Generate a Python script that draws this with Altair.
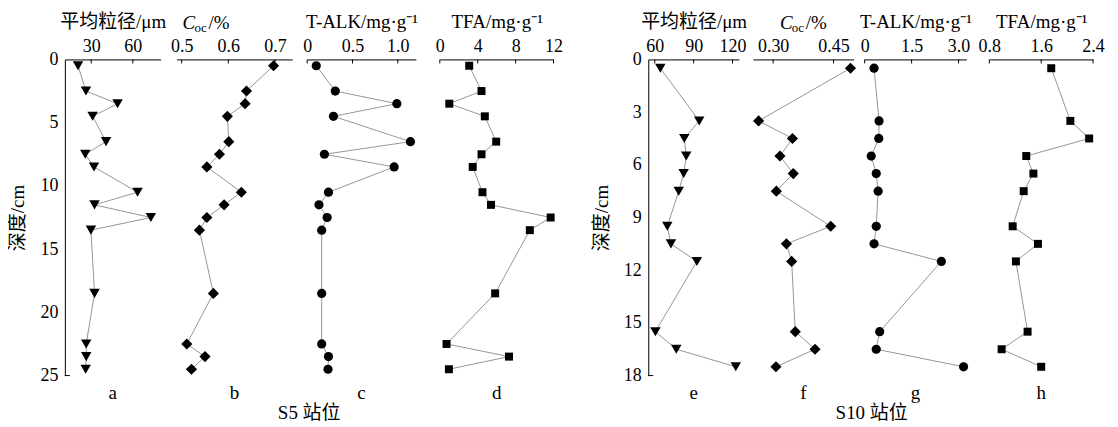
import altair as alt
import pandas as pd

FONT = "Liberation Serif, Noto Sans CJK SC"
LBL = 18
TTL = 19

# ---- data ----
depth_s5 = [0.5, 2.5, 3.5, 4.5, 6.5, 7.5, 8.5, 10.5, 11.5, 12.5, 13.5, 18.5, 22.5, 23.5, 24.5]
grain_s5 = [20.5, 26.2, 49, 31, 40.7, 25.7, 32, 63.4, 32.4, 73, 29.8, 32.4, 26.4, 26.4, 26]
coc_s5 = [0.697, 0.639, 0.636, 0.598, 0.601, 0.581, 0.554, 0.628, 0.591, 0.554, 0.538, 0.568, 0.511, 0.550, 0.521]
talk_s5 = [0.10, 0.31, 0.99, 0.29, 1.14, 0.19, 0.96, 0.235, 0.13, 0.22, 0.16, 0.16, 0.16, 0.235, 0.23]
tfa_s5 = [3.1, 4.4, 1.0, 4.75, 5.95, 4.4, 3.47, 4.5, 5.4, 11.7, 9.5, 5.84, 0.71, 7.3, 0.96]

depth_s10 = [0.5, 3.5, 4.5, 5.5, 6.5, 7.5, 9.5, 10.5, 11.5, 15.5, 16.5, 17.5]
grain_s10 = [64.3, 94.3, 82.8, 84.3, 82.3, 78.5, 69.7, 72.5, 92.5, 60.5, 76.6, 122.5]
coc_s10 = [0.492, 0.264, 0.348, 0.317, 0.35, 0.308, 0.443, 0.333, 0.346, 0.355, 0.404, 0.307]
talk_s10 = [0.30, 0.46, 0.45, 0.21, 0.37, 0.43, 0.37, 0.30, 2.45, 0.48, 0.37, 3.16]
tfa_s10 = [1.755, 2.05, 2.34, 1.37, 1.48, 1.33, 1.16, 1.55, 1.21, 1.39, 0.99, 1.6]

HEIGHT = 317


def label_text(txt, x, y, size=TTL, style="normal", align="center"):
    return alt.Chart(pd.DataFrame({"t": [txt]})).mark_text(
        font=FONT, fontSize=size, fontStyle=style, align=align,
        baseline="alphabetic", color="black"
    ).encode(text="t:N", x=alt.value(x), y=alt.value(y))


def panel(depths, values, domain, ticks, width, shape, size, title,
          ydomain, yticks, letter, first=False, label_expr=None, extra=None):
    df = pd.DataFrame({"depth": depths, "value": values})
    xscale = alt.Scale(domain=domain, nice=False, zero=False)
    yscale = alt.Scale(domain=ydomain, reverse=True, nice=False, zero=False)
    axis_kw = dict(orient="top", ticks=False, domain=True, values=ticks,
                   labelPadding=4, titlePadding=6, labelFlush=False,
                   labelOverlap=False, labelBound=False, grid=False,
                   labelExpr=label_expr)
    axis_kw["title"] = title if title is not None else ""
    xenc = alt.X("value:Q", scale=xscale, axis=alt.Axis(**axis_kw))
    if first:
        yaxis = alt.Axis(orient="left", ticks=False, domain=True, values=yticks,
                         labelPadding=7, title="深度/cm", titlePadding=12,
                         grid=False, labelFlush=False, labelOverlap=False)
    else:
        yaxis = None
    yenc = alt.Y("depth:Q", scale=yscale, axis=yaxis)

    line = alt.Chart(df).mark_line(color="#8a8a8a", strokeWidth=0.9).encode(
        x=xenc, y=yenc, order="depth:Q")
    pts = alt.Chart(df).mark_point(shape=shape, filled=True, color="black",
                                   opacity=1, size=size, strokeWidth=0).encode(
        x=xenc, y=yenc)
    tk = alt.Chart(pd.DataFrame({"value": ticks})).mark_rule(
        color="black", strokeWidth=1).encode(
        x=xenc, y=alt.value(0), y2=alt.value(4))
    layers = [line, pts, tk]
    if first:
        yt = alt.Chart(pd.DataFrame({"depth": [ydomain[1]]})).mark_rule(
            color="black", strokeWidth=1).encode(
            y=yenc, x=alt.value(0), x2=alt.value(5))
        layers.append(yt)
    layers.append(label_text(letter, width / 2, HEIGHT + 23))
    if extra:
        layers.extend(extra)
    return alt.layer(*layers).properties(width=width, height=HEIGHT)


def spacer(w):
    return alt.Chart(pd.DataFrame({"s": [0]})).mark_point(opacity=0).encode(
        x=alt.value(0), y=alt.value(0)).properties(width=w, height=HEIGHT)


int_expr = "toString(datum.value)"
one_expr = "datum.value == 0 ? '0' : format(datum.value, '.1f')"
two_expr = "format(datum.value, '.2f')"

# C_oc titles built from pieces (italic C, subscript oc)
coc_b = [label_text("C", 6, -31, style="italic", align="left"),
         label_text("oc", 18, -28, size=13, align="left"),
         label_text("/%", 32, -31, align="left")]
coc_f = [label_text("C", 27, -31, style="italic", align="left"),
         label_text("oc", 39, -28, size=13, align="left"),
         label_text("/%", 53, -31, align="left")]

yt5 = [0, 5, 10, 15, 20, 25]
yt10 = [0, 3, 6, 9, 12, 15, 18]

pa = panel(depth_s5, grain_s5, [11, 80], [30, 60], 96, "triangle-down", 110,
           "平均粒径/μm", [0, 25], yt5, "a", first=True, label_expr=int_expr)
pb = panel(depth_s5, coc_s5, [0.489, 0.737], [0.5, 0.6, 0.7], 116, "diamond", 125,
           None, [0, 25], yt5, "b", label_expr=one_expr, extra=coc_b)
pc = panel(depth_s5, talk_s5, [0, 1.2], [0, 0.5, 1.0], 109, "circle", 85,
           "T-ALK/mg·g⁻¹", [0, 25], yt5, "c", label_expr=one_expr,
           extra=[label_text("S5 站位", 2, HEIGHT + 44)])
pd_ = panel(depth_s5, tfa_s5, [0, 12], [0, 4, 8, 12], 114, "square", 64,
            "TFA/mg·g⁻¹", [0, 25], yt5, "d", label_expr=int_expr)

pe = panel(depth_s10, grain_s10, [55, 125], [60, 90, 120], 91, "triangle-down", 110,
           "平均粒径/μm", [0, 18], yt10, "e", first=True, label_expr=int_expr)
pf = panel(depth_s10, coc_s10, [0.25, 0.50], [0.30, 0.45], 101, "diamond", 125,
           None, [0, 18], yt10, "f", label_expr=two_expr, extra=coc_f)
pg = panel(depth_s10, talk_s10, [0, 3.25], [0, 1.5, 3.0], 102, "circle", 85,
           "T-ALK/mg·g⁻¹", [0, 18], yt10, "g", label_expr=one_expr,
           extra=[label_text("S10 站位", 7, HEIGHT + 44)])
ph = panel(depth_s10, tfa_s10, [0.8, 2.4], [0.8, 1.6, 2.4], 104, "square", 64,
           "TFA/mg·g⁻¹", [0, 18], yt10, "h", label_expr=one_expr)

chart = alt.hconcat(
    pa, spacer(16), pb, spacer(15), pc, spacer(24), pd_, spacer(95),
    pe, spacer(14), pf, spacer(11), pg, spacer(23), ph,
    spacing=0, bounds="flush"
).properties(
    padding={"left": 1, "top": 4, "right": 5, "bottom": 5}
).configure_view(stroke=None).configure_axis(
    labelFont=FONT, titleFont=FONT, labelFontSize=LBL, titleFontSize=TTL,
    labelColor="black", titleColor="black", domainColor="black",
    domainWidth=1, titleFontWeight="normal"
)

chart.save("out.html", embed_options={"renderer": "svg", "actions": False})
